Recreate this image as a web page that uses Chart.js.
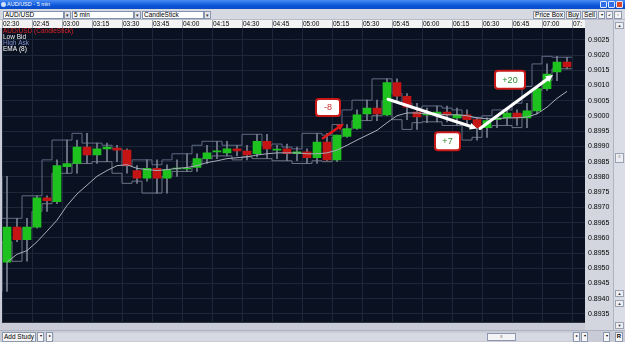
<!DOCTYPE html>
<html>
<head>
<meta charset="utf-8">
<script src="https://cdn.jsdelivr.net/npm/chart.js@4.4.1/dist/chart.umd.min.js"></script>
<style>
body{margin:0;width:625px;height:342px;overflow:hidden;background:#c9ccd6;font-family:"Liberation Sans",Arial,sans-serif;position:relative}
.a{position:absolute;box-sizing:border-box}
#title{left:0;top:0;width:625px;height:9px;background:linear-gradient(#4a8cf6,#0b56da 60%,#0a4cc6);color:#fff;font-size:5.5px;line-height:9px;padding-left:7px}
#tb{left:0;top:9px;width:625px;height:11px;background:#d6d9e1;border-bottom:1px solid #b8bcc8}
.sel{top:2px;height:8px;background:#fff;border:1px solid #7f93b0;font-size:6.5px;line-height:6px;padding-left:1px;color:#000}
.arr{top:2px;height:8px;width:7px;background:#e4e6ec;border:1px solid #8c98ae;font-size:5px;line-height:6px;text-align:center;color:#333}
.btn{top:2px;height:8px;background:#f4f4f6;border:1px solid #8c98ae;font-size:6.5px;line-height:6px;text-align:center;color:#000}
.wb{top:1px;width:7px;height:7px;border:1px solid #dfe8ff;border-radius:1px;background:#2f6ee8}
#cv{left:0;top:20px}
#sb{left:613px;top:20px;width:12px;height:310px;background:#dadde5;border-left:1px solid #b0b4c0}
.sbb{left:1px;width:9px;height:7px;background:#eceef2;border:1px solid #9aa2b2;font-size:4px;line-height:5px;text-align:center;color:#333}
#bot{left:0;top:330px;width:625px;height:12px;background:#c9ccd6;border-top:1px solid #aeb2be}
</style>
</head>
<body>
<div class="a" id="title">AUD/USD - 5 min</div>
<div class="a" style="left:1px;top:2px;width:5px;height:5px;border-radius:50%;background:#cfe0ff"></div>
<div class="a wb" style="left:600px"></div>
<div class="a wb" style="left:608px"></div>
<div class="a wb" style="left:616px;background:#d9482a"></div>
<div class="a" id="tb">
  <div class="a sel" style="left:3px;width:61px">AUD/USD</div>
  <div class="a arr" style="left:64px">▾</div>
  <div class="a sel" style="left:72px;width:62px">5 min</div>
  <div class="a arr" style="left:134px">▾</div>
  <div class="a sel" style="left:142px;width:62px">CandleStick</div>
  <div class="a arr" style="left:204px">▾</div>
  <div class="a btn" style="left:533px;width:32px">Price Box</div>
  <div class="a btn" style="left:566px;width:15px">Buy</div>
  <div class="a btn" style="left:582px;width:15px">Sell</div>
  <div class="a btn" style="left:598px;width:7px;font-size:4px">▾</div>
  <div class="a btn" style="left:606px;width:7px;font-size:4px">↙</div>
  <div class="a btn" style="left:614px;width:8px;font-size:4px">▫</div>
</div>
<canvas class="a" id="cv" width="613" height="310"></canvas>
<div class="a" id="sb">
  <div class="a sbb" style="top:2px">▲</div>
  <div class="a sbb" style="top:133px;height:10px">≡</div>
  <div class="a sbb" style="top:270px">▲</div>
  <div class="a sbb" style="top:280px">▲</div>
  <div class="a sbb" style="top:302px">▼</div>
</div>
<div class="a" id="bot">
  <div class="a btn" style="left:2px;top:1px;width:34px;height:10px;line-height:8px;font-size:6.5px">Add Study</div>
  <div class="a btn" style="left:37px;top:1px;width:7px;height:10px;font-size:4px">▾</div>
  <div class="a btn" style="left:46px;top:1px;width:7px;height:10px;font-size:4px">▸</div>
  <div class="a" style="left:54px;top:2px;width:518px;height:8px;background:#d6d9e1"></div>
  <div class="a btn" style="left:487px;top:2px;width:29px;height:8px;font-size:4px">≡</div>
  <div class="a btn" style="left:573px;top:1px;width:7px;height:10px;font-size:4px">▸</div>
  <div class="a btn" style="left:581px;top:1px;width:7px;height:10px;font-size:4px">▾</div>
  <div class="a btn" style="left:603px;top:1px;width:7px;height:10px;font-size:4px">▾</div>
  <div class="a btn" style="left:615px;top:1px;width:8px;height:10px;font-size:6px;font-weight:bold">R</div>
</div>
<script>
// 5 minute candles from 02:30, AUD/USD
const timeLabels = ['02:30','02:45','03:00','03:15','03:30','03:45','04:00','04:15','04:30','04:45',
  '05:00','05:15','05:30','05:45','06:00','06:15','06:30','06:45','07:00','07:']
const priceTicks = [0.8935,0.8940,0.8945,0.8950,0.8955,0.8960,0.8965,0.8970,0.8975,0.8980,
  0.8985,0.8990,0.8995,0.9000,0.9005,0.9010,0.9015,0.9020,0.9025]

const opens = [0.89520,0.89635,0.89594,0.89635,0.89731,0.89719,0.89834,0.89844,0.89898,0.89872,
  0.89892,0.89895,0.89888,0.89821,0.89796,0.89828,0.89796,0.89826,0.89826,0.89831,
  0.89860,0.89882,0.89879,0.89892,0.89885,0.89876,0.89917,0.89888,0.89892,0.89876,
  0.89882,0.89863,0.89914,0.89856,0.89933,0.89959,0.90007,0.90026,0.90004,0.90110,
  0.90065,0.90013,0.90004,0.90004,0.90013,0.89994,0.90004,0.89988,0.89962,0.89988,
  0.89994,0.90010,0.89994,0.90017,0.90090,0.90145,0.90177]
const closes = [0.89635,0.89594,0.89635,0.89731,0.89722,0.89837,0.89844,0.89898,0.89872,0.89892,
  0.89898,0.89888,0.89837,0.89796,0.89828,0.89796,0.89824,0.89829,0.89829,0.89860,
  0.89879,0.89885,0.89892,0.89885,0.89872,0.89917,0.89892,0.89890,0.89876,0.89882,
  0.89863,0.89914,0.89856,0.89937,0.89959,0.90004,0.90026,0.90007,0.90110,0.90065,
  0.90029,0.89997,0.90007,0.90013,0.90004,0.90004,0.89988,0.89962,0.89985,0.89994,
  0.90010,0.89994,0.90017,0.90090,0.90138,0.90177,0.90161]
// high ask / low bid
const highs = [0.89802,0.89664,0.89664,0.89738,0.89738,0.89856,0.89921,0.89921,0.89943,0.89911,
  0.89911,0.89904,0.89892,0.89837,0.89856,0.89856,0.89840,0.89856,0.89876,0.89876,
  0.89904,0.89917,0.89917,0.89904,0.89904,0.89940,0.89940,0.89904,0.89908,0.89898,
  0.89892,0.89943,0.89943,0.89937,0.89972,0.90020,0.90052,0.90052,0.90122,0.90122,
  0.90074,0.90042,0.90026,0.90033,0.90033,0.90026,0.90020,0.89994,0.89994,0.90001,
  0.90020,0.90020,0.90042,0.90097,0.90171,0.90196,0.90193]
const lows = [0.89424,0.89587,0.89523,0.89632,0.89687,0.89712,0.89812,0.89812,0.89844,0.89844,
  0.89850,0.89850,0.89812,0.89779,0.89786,0.89747,0.89747,0.89802,0.89818,0.89818,
  0.89844,0.89860,0.89869,0.89869,0.89856,0.89866,0.89860,0.89860,0.89853,0.89853,
  0.89844,0.89844,0.89853,0.89850,0.89930,0.89956,0.89985,0.89985,0.90001,0.90049,
  0.89988,0.89956,0.89978,0.89981,0.89981,0.89969,0.89969,0.89921,0.89930,0.89962,
  0.89969,0.89969,0.89962,0.90007,0.90084,0.90116,0.90155]
const ema = [0.89520,0.89546,0.89558,0.89587,0.89622,0.89658,0.89706,0.89744,0.89773,0.89802,
  0.89821,0.89837,0.89840,0.89828,0.89824,0.89821,0.89824,0.89828,0.89831,0.89837,
  0.89847,0.89853,0.89860,0.89863,0.89866,0.89872,0.89876,0.89879,0.89879,0.89879,
  0.89876,0.89876,0.89879,0.89888,0.89904,0.89921,0.89937,0.89953,0.89978,0.90001,
  0.90010,0.90010,0.90007,0.90007,0.90004,0.90004,0.90001,0.89994,0.89991,0.89991,
  0.89994,0.89994,0.89997,0.90007,0.90029,0.90058,0.90081]

// drawn trade marks, in minutes after 02:30 and price
const notes = [
  {from: [160.5, 0.89927], to: [171, 0.89975], color: '#e01818', width: 2.5},
  {from: [193, 0.90055], to: [237.5, 0.89959], color: '#ffffff', width: 3},
  {from: [239, 0.89959], to: [275.5, 0.90135], color: '#ffffff', width: 3}
]
const tags = [
  {at: [163, 0.90028], text: '-8', color: '#c83030', w: 24, h: 17},
  {at: [222.75, 0.89917], text: '+7', color: '#2e8a2e', w: 25, h: 18},
  {at: [254, 0.90119], text: '+20', color: '#2e8a2e', w: 30, h: 18}
]

const mid = i => i * 5 + 2.5
const bodies = opens.map((o, i) => ({x: mid(i), y: [o, closes[i]]}))
const bodyColors = opens.map((o, i) => closes[i] >= o ? '#1ec21e' : '#c41414')
const wicks = lows.map((l, i) => ({x: mid(i), y: [l, highs[i]]}))
const stepData = arr => arr.map((v, i) => ({x: i * 5, y: v})).concat([{x: arr.length * 5, y: arr[arr.length - 1]}])

function drawArrow(ctx, x1, y1, x2, y2, color, w){
  const ang = Math.atan2(y2 - y1, x2 - x1)
  const hl = 8
  ctx.strokeStyle = color
  ctx.fillStyle = color
  ctx.lineWidth = w
  ctx.beginPath()
  ctx.moveTo(x1, y1)
  ctx.lineTo(x2 - hl * 0.7 * Math.cos(ang), y2 - hl * 0.7 * Math.sin(ang))
  ctx.stroke()
  ctx.beginPath()
  ctx.moveTo(x2, y2)
  ctx.lineTo(x2 - hl * Math.cos(ang - 0.45), y2 - hl * Math.sin(ang - 0.45))
  ctx.lineTo(x2 - hl * Math.cos(ang + 0.45), y2 - hl * Math.sin(ang + 0.45))
  ctx.closePath()
  ctx.fill()
}

const frame = {
  id: 'frame',
  beforeDraw: (chart) => {
    const {ctx, chartArea: a, scales: {x, y}} = chart
    ctx.save()
    ctx.fillStyle = '#c9ccd6'
    ctx.fillRect(0, 0, chart.width, chart.height)
    ctx.fillStyle = '#d3d6de'
    ctx.fillRect(y.left, 0, chart.width - y.left, chart.height)
    ctx.fillStyle = '#f3f3f3'
    ctx.fillRect(0, x.top, a.right, x.bottom - x.top)
    ctx.fillStyle = '#0a1221'
    ctx.fillRect(a.left, a.top, a.right - a.left, a.bottom - a.top)
    ctx.strokeStyle = '#a4a8b2'
    ctx.lineWidth = 1
    x.ticks.forEach(t => {
      const px = Math.round(x.getPixelForValue(t.value)) + 0.5
      ctx.beginPath()
      ctx.moveTo(px, x.top)
      ctx.lineTo(px, x.bottom)
      ctx.stroke()
    })
    ctx.restore()
  },
  afterDatasetsDraw: (chart) => {
    const {ctx, chartArea: a, scales: {x, y}} = chart
    ctx.save()
    ctx.lineCap = 'round'
    notes.forEach(n => {
      drawArrow(ctx, x.getPixelForValue(n.from[0]), y.getPixelForValue(n.from[1]),
        x.getPixelForValue(n.to[0]), y.getPixelForValue(n.to[1]), n.color, n.width)
    })
    tags.forEach(t => {
      const cx = x.getPixelForValue(t.at[0]), cy = y.getPixelForValue(t.at[1])
      ctx.shadowColor = 'rgba(0,0,0,0.5)'
      ctx.shadowBlur = 3
      ctx.fillStyle = '#ffffff'
      ctx.beginPath()
      ctx.roundRect(cx - t.w / 2, cy - t.h / 2, t.w, t.h, 3)
      ctx.fill()
      ctx.shadowColor = 'transparent'
      ctx.strokeStyle = '#c81818'
      ctx.lineWidth = 2
      ctx.stroke()
      ctx.fillStyle = t.color
      ctx.font = '9px "Liberation Sans", Arial, sans-serif'
      ctx.textAlign = 'center'
      ctx.textBaseline = 'middle'
      ctx.fillText(t.text, cx, cy + 0.5)
    })
    // study legend
    ctx.font = '6.5px "Liberation Sans", Arial, sans-serif'
    ctx.textAlign = 'left'
    ctx.textBaseline = 'middle'
    const legend = [['AUD/USD (CandleStick)', '#e02424'], ['Low Bid', '#eeeeee'], ['High Ask', '#7f8fd0'], ['EMA (8)', '#ffffff']]
    legend.forEach((l, i) => {
      ctx.fillStyle = l[1]
      ctx.fillText(l[0], a.left + 1, a.top + 3 + i * 6)
    })
    ctx.restore()
  }
}

new Chart(
  document.getElementById('cv'),
  {
    type: 'bar',
    data: {
      datasets: [
        {
          type: 'line', label: 'EMA (8)', order: 0,
          data: ema.map((v, i) => ({x: mid(i), y: v})),
          borderColor: '#a9adb9', borderWidth: 1, pointRadius: 0, tension: 0
        },
        {
          label: 'AUD/USD', order: 1, data: bodies, grouped: false,
          backgroundColor: bodyColors, barThickness: 8, minBarLength: 1, borderWidth: 0
        },
        {
          label: 'wick', order: 2, data: wicks, grouped: false,
          backgroundColor: '#7a8092', barThickness: 1, borderWidth: 0
        },
        {
          type: 'line', label: 'High Ask', order: 3, data: stepData(highs), stepped: 'after',
          borderColor: '#5f6884', borderWidth: 1, pointRadius: 0
        },
        {
          type: 'line', label: 'Low Bid', order: 3, data: stepData(lows), stepped: 'after',
          borderColor: '#6c7284', borderWidth: 1, pointRadius: 0
        }
      ]
    },
    options: {
      responsive: false,
      animation: false,
      layout: {padding: {left: 2, top: 0, right: 0, bottom: 0}},
      scales: {
        x: {
          type: 'linear', position: 'top', min: 0, max: 291.5, offset: false,
          afterBuildTicks: axis => { axis.ticks = timeLabels.map((l, k) => ({value: k * 15})) },
          afterFit: axis => { axis.height = 8 },
          ticks: {
            autoSkip: false, maxRotation: 0, align: 'start', padding: 0, labelOffset: 1,
            color: '#000000', font: {size: 6.5, family: '"Liberation Sans", Arial, sans-serif'},
            callback: (v, i) => timeLabels[i]
          },
          grid: {color: '#1c2739', drawTicks: false, offset: false},
          border: {display: false}
        },
        y: {
          type: 'linear', position: 'right', min: 0.89321, max: 0.90289, beginAtZero: false,
          afterBuildTicks: axis => { axis.ticks = priceTicks.map(v => ({value: v})) },
          afterFit: axis => { axis.width = 28 },
          ticks: {
            padding: 3, color: '#000000', font: {size: 7, family: '"Liberation Sans", Arial, sans-serif'},
            callback: v => Number(v).toFixed(4)
          },
          grid: {color: '#1c2739', drawTicks: false},
          border: {display: false}
        }
      },
      plugins: {
        legend: {display: false},
        tooltip: {enabled: false}
      }
    },
    plugins: [frame]
  }
)
</script>
</body>
</html>
